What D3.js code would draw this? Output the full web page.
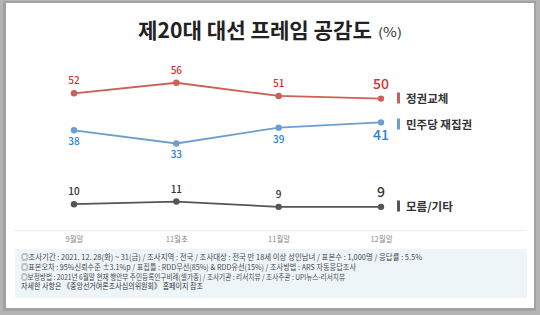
<!DOCTYPE html>
<html><head><meta charset="utf-8">
<script src="https://cdn.jsdelivr.net/npm/d3@7"></script>
<style>body{margin:0;background:#fff}svg{display:block}</style>
</head><body>
<script>
const categories = ["9월말", "11월초", "11월말", "12월말"];
const seriesNames = ["정권교체", "민주당 재집권", "모름/기타"];
const regimeChange = [52, 56, 51, 50];
const democratRetain = [38, 33, 39, 41];
const unknownOther = [10, 11, 9, 9];
const titleMain = "제20대 대선 프레임 공감도";
const titleUnit = "(%)";
const notes = [
  "◎조사기간 : 2021. 12. 28(화) ~ 31(금) / 조사지역 : 전국 / 조사대상 : 전국 만 18세 이상 성인남녀 / 표본수 : 1,000명 / 응답률 : 5.5%",
  "◎표본오차 : 95%신뢰수준 ±3.1%p  / 표집틀 : RDD무선(85%) & RDD유선(15%) / 조사방법 : ARS 자동응답조사",
  "◎보정방법 : 2021년 6월말 현재 행안부 주민등록인구비례(셀가중) / 조사기관 : 리서치뷰 / 조사주관 : UPI뉴스-리서치뷰",
  "자세한 사항은 《중앙선거여론조사심의위원회》 홈페이지 참조"
];

const W = 540, H = 315;
const font = "'Noto Sans CJK KR', 'Noto Sans', sans-serif";
const svg = d3.select("body").append("svg").attr("width", W).attr("height", H)
  .style("font-family", font);

// frame
svg.append("rect").attr("width", W).attr("height", H).attr("fill", "#b4b4b4");
svg.append("rect").attr("x", 3).attr("y", 1).attr("width", 533).attr("height", 310).attr("fill", "#a2a2a2");
svg.append("rect").attr("x", 6).attr("y", 3).attr("width", 528).attr("height", 305).attr("fill", "#ffffff");

// title
svg.append("text").attr("x", 138).attr("y", 38).attr("font-size", 21).attr("font-weight", 700)
  .attr("fill", "#222").attr("textLength", 234).attr("lengthAdjust", "spacingAndGlyphs").text(titleMain);
svg.append("text").attr("x", 378).attr("y", 37).attr("font-size", 12.5)
  .attr("fill", "#333").attr("textLength", 24).attr("lengthAdjust", "spacingAndGlyphs").text(titleUnit);

const x = d3.scalePoint().domain(categories).range([74, 381]);
const y = d3.scaleLinear().domain([0, 60]).range([230.6, 72.2]);

// baseline
svg.append("line").attr("x1", 14).attr("x2", 526).attr("y1", y(0)).attr("y2", y(0))
  .attr("stroke", "#ececec").attr("stroke-width", 1);

// x axis labels
const xAxis = d3.axisBottom(x).tickSize(0).tickPadding(0);
const gx = svg.append("g").attr("transform", `translate(0,${y(0) + 6})`).call(xAxis);
gx.select(".domain").remove();
gx.selectAll("text").attr("font-size", 7.5).attr("fill", "#8a8a8a").style("font-family", font);

const series = [
  {name: seriesNames[0], values: regimeChange, line: "#cc5f57", label: "#d2302b", pos: "above", legendY: 98},
  {name: seriesNames[1], values: democratRetain, line: "#6c9fcf", label: "#2c7fd3", pos: "below", legendY: 124},
  {name: seriesNames[2], values: unknownOther, line: "#555555", label: "#333333", pos: "above", legendY: 206}
];

const lineGen = d3.line().x((d, i) => x(categories[i])).y(d => y(d));

series.forEach(s => {
  const g = svg.append("g");
  g.append("path").attr("d", lineGen(s.values)).attr("fill", "none")
    .attr("stroke", s.line).attr("stroke-width", 1.8);
  g.selectAll("circle").data(s.values).join("circle")
    .attr("cx", (d, i) => x(categories[i])).attr("cy", d => y(d)).attr("r", 3.2)
    .attr("fill", s.line);
  g.selectAll("text").data(s.values).join("text")
    .attr("x", (d, i) => x(categories[i]))
    .attr("y", (d, i) => {
      const last = i === s.values.length - 1;
      if (s.pos === "above") return y(d) - (last ? 10 : 9);
      return y(d) + (last ? 18 : 15);
    })
    .attr("text-anchor", "middle")
    .attr("font-size", (d, i) => i === s.values.length - 1 ? 14 : 10)
    .attr("font-weight", 500)
    .attr("fill", s.label)
    .text(d => d);
  // legend
  svg.append("rect").attr("x", 397).attr("y", s.legendY - 5.5).attr("width", 3).attr("height", 11)
    .attr("fill", s.line);
  svg.append("text").attr("x", 406).attr("y", s.legendY + 4.5).attr("font-size", 11.5)
    .attr("font-weight", 700).attr("fill", "#333").text(s.name);
});

// notes box
svg.append("rect").attr("x", 15).attr("y", 249).attr("width", 512).attr("height", 49).attr("fill", "#eef5f9");
const noteEnds = [422, 356, 345, 203];
notes.forEach((t, i) => {
  svg.append("text").attr("x", 21).attr("y", 260 + i * 9.8).attr("font-size", 8)
    .attr("fill", i === 3 ? "#333" : "#4a4a4a")
    .attr("textLength", noteEnds[i] - 21).attr("lengthAdjust", "spacingAndGlyphs")
    .text(t);
});
</script>
</body></html>
